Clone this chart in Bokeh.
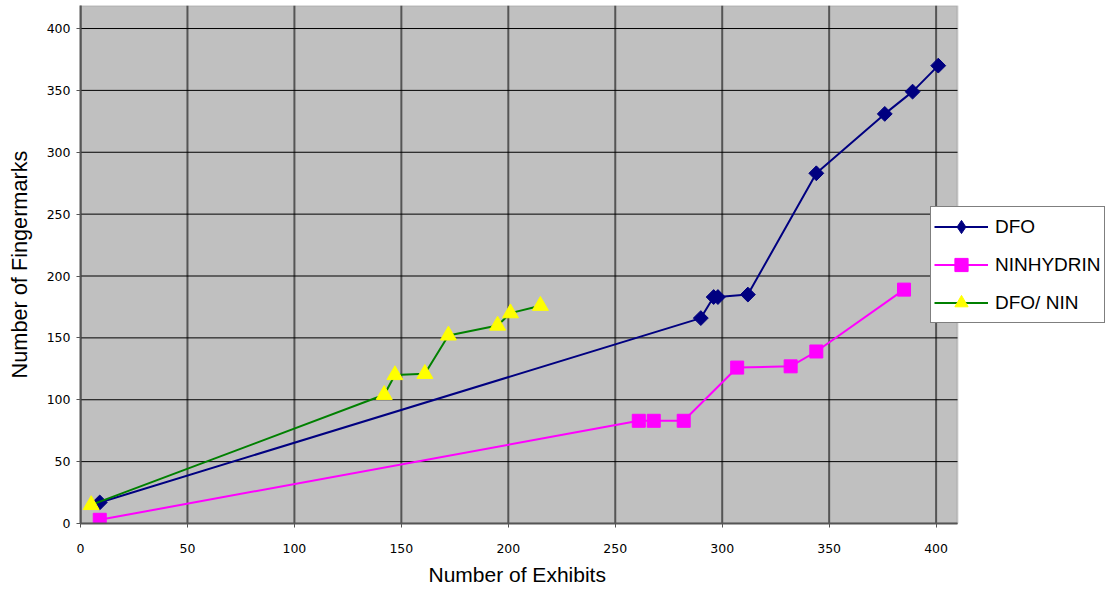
import numpy as np
from bokeh.plotting import figure
from bokeh.models import Legend, LegendItem, FixedTicker, Range1d, BoxAnnotation, Title
from bokeh.embed import file_html
from bokeh.resources import INLINE

# ---- data ----
dfo_x = [9, 290, 296, 298, 312, 344, 376, 389, 401]
dfo_y = [17, 166, 183, 183, 185, 283, 331, 349, 370]

nin_x = [9, 261, 268, 282, 307, 332, 344, 385]
nin_y = [3, 83, 83, 83, 126, 127, 139, 189]

mix_x = [5, 142, 147, 161, 172, 195, 201, 215]
mix_y = [15, 104, 120, 121, 152, 160, 170, 176]

series_names = ["DFO", "NINHYDRIN", "DFO/ NIN"]
x_ticks = [0, 50, 100, 150, 200, 250, 300, 350, 400]
y_ticks = [0, 50, 100, 150, 200, 250, 300, 350, 400]
x_title = "Number of Exhibits"
y_title = "Number of Fingermarks"

# axis extents of the grey plotting area
X_MAX = 410
Y_MAX = 418.6

# ---- figure ----
W, H = 1111, 594
p = figure(width=W, height=H, output_backend="svg", toolbar_location=None,
           x_range=Range1d(0, X_MAX * (W - 80) / 877), y_range=Range1d(0, Y_MAX),
           min_border_left=80, min_border_right=0, min_border_top=5,
           min_border_bottom=71)
p.background_fill_color = "white"
p.border_fill_color = "white"
p.outline_line_color = None
p.xgrid.visible = False
p.ygrid.visible = False

area = BoxAnnotation(left=0, right=X_MAX, bottom=0, top=Y_MAX,
                     fill_color="#C0C0C0", fill_alpha=1.0,
                     line_color="#808080", line_width=2, level="underlay")
p.add_layout(area)

# grid lines limited to the grey area
p.segment(x0=x_ticks, x1=x_ticks, y0=[0] * len(x_ticks), y1=[Y_MAX] * len(x_ticks),
          line_color="#555555", line_width=2)
p.segment(x0=[0] * len(y_ticks), x1=[X_MAX] * len(y_ticks), y0=y_ticks, y1=y_ticks,
          line_color="black", line_width=1)

# axes
for ax, ticks in ((p.xaxis[0], x_ticks), (p.yaxis[0], y_ticks)):
    ax.ticker = FixedTicker(ticks=ticks)
    ax.axis_line_color = "#555555"
    ax.axis_line_width = 2
    ax.major_tick_line_color = "#555555"
    ax.major_tick_out = 4
    ax.major_tick_in = 0
    ax.minor_tick_line_color = None
    ax.major_label_text_font = "DejaVu Sans"
    ax.major_label_text_font_size = "12.5px"
    ax.major_label_text_color = "black"

p.xaxis.bounds = (0, X_MAX)
p.yaxis.bounds = (0, Y_MAX)
p.yaxis.major_label_standoff = 6
p.xaxis.major_label_standoff = 16

p.yaxis.axis_label = y_title
p.yaxis.axis_label_text_font = "Liberation Sans"
p.yaxis.axis_label_text_font_size = "21.7px"
p.yaxis.axis_label_text_font_style = "normal"
p.yaxis.axis_label_text_color = "black"
p.yaxis.axis_label_standoff = 12

# x axis title placed as a Title so it can sit centred under the grey area
xt = Title(text=x_title, align="left", offset=348, standoff=11,
           vertical_align="bottom",
           text_font="Liberation Sans", text_font_size="21px",
           text_font_style="normal", text_color="black")
p.add_layout(xt, "below")

# ---- series ----
l1 = p.line(dfo_x, dfo_y, line_color="#000080", line_width=2)
m1 = p.scatter(dfo_x, dfo_y, marker="square", angle=np.pi / 4, size=10.5,
               fill_color="#000080", line_color="#000080")

l2 = p.line(nin_x, nin_y, line_color="#FF00FF", line_width=2)
m2 = p.scatter(nin_x, nin_y, marker="square", size=13,
               fill_color="#FF00FF", line_color="#FF00FF")

l3 = p.line(mix_x, mix_y, line_color="#008000", line_width=2)
m3 = p.scatter(mix_x, mix_y, marker="triangle", size=16,
               fill_color="#FFFF00", line_color="#FFFF00")

# legend-only diamond glyph (legend markers are drawn unrotated)
d1 = p.scatter(x=[np.nan], y=[np.nan], marker="diamond", size=14,
               fill_color="#000080", line_color="#000080")

legend = Legend(items=[
    LegendItem(label=series_names[0], renderers=[l1, d1]),
    LegendItem(label=series_names[1], renderers=[l2, m2]),
    LegendItem(label=series_names[2], renderers=[l3, m3]),
], location=(850, 200))
legend.label_text_font = "Liberation Sans"
legend.label_text_font_size = "19px"
legend.label_text_color = "black"
legend.glyph_width = 54
legend.glyph_height = 33
legend.label_height = 33
legend.label_standoff = 7
legend.spacing = 5
legend.padding = 3
legend.margin = 0
legend.border_line_color = "black"
legend.border_line_width = 1
legend.background_fill_color = "white"
legend.background_fill_alpha = 1.0
p.add_layout(legend, "center")

open("out.html", "w").write(file_html(p, INLINE))
